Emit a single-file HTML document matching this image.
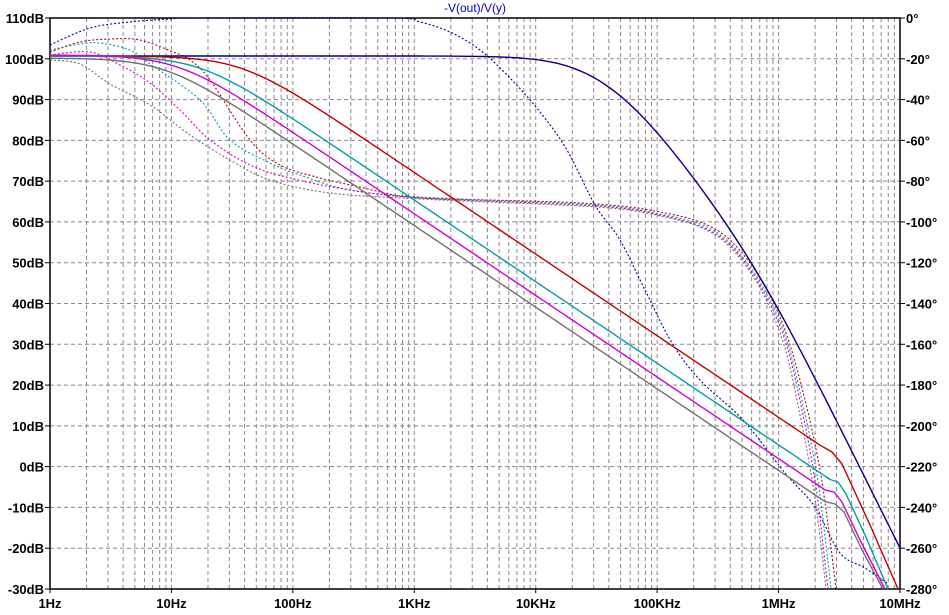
<!DOCTYPE html>
<html><head><style>
body{margin:0;background:#fff;}
svg{display:block;font-family:"Liberation Sans",sans-serif;}
</style></head><body>
<svg id="s" width="949" height="615" xmlns="http://www.w3.org/2000/svg">
<rect width="949" height="615" fill="#fff"/>
<g id="grid" stroke="#888" stroke-width="1" stroke-dasharray="4,3"></g>
<rect x="50" y="18" width="850" height="571" fill="none" stroke="#000" stroke-width="1.5"/>
<g id="labels" font-size="13" font-weight="bold" fill="#000"></g>
<text x="475" y="12" font-size="12" fill="#0000c0" text-anchor="middle">-V(out)/V(y)</text>
<g id="curves" fill="none" stroke-width="1.4" stroke-linejoin="round"></g>
</svg>
<script>
const NS="http://www.w3.org/2000/svg";
const L=50,R=900,T=18,B=589,dec=(R-L)/7,dy=(B-T)/14;
const g=document.getElementById('grid'),lb=document.getElementById('labels'),cv=document.getElementById('curves');
function el(p,t,a,txt){const e=document.createElementNS(NS,t);for(const k in a)e.setAttribute(k,a[k]);if(txt)e.textContent=txt;p.appendChild(e);return e;}
for(let d=0;d<7;d++)for(let m=1;m<=9;m++){const x=L+dec*(d+Math.log10(m));if(d==0&&m==1)continue;el(g,'line',{x1:x,x2:x,y1:T,y2:B});}
for(let i=1;i<14;i++){const y=T+dy*i;el(g,'line',{x1:L,x2:R,y1:y,y2:y});}
const fl=["1Hz","10Hz","100Hz","1KHz","10KHz","100KHz","1MHz","10MHz"];
fl.forEach((t,i)=>{const x=L+dec*i;el(lb,'text',{x:x,y:608,'text-anchor':'middle'},t);el(lb,'line',{x1:x,x2:x,y1:B,y2:B+4,stroke:'#000'});});
for(let i=0;i<=14;i++){const y=T+dy*i;el(lb,'text',{x:44,y:y+5,'text-anchor':'end'},(110-10*i)+"dB");el(lb,'text',{x:906,y:y+5},(i==0?"0":(-20*i))+"°");
el(lb,'line',{x1:L-5,x2:L,y1:y,y2:y,stroke:'#000'});el(lb,'line',{x1:R,x2:R+5,y1:y,y2:y,stroke:'#000'});}
function pl(pts,c,dash){
  let d="M"+pts[0].join(",");
  for(let i=0;i<pts.length-1;i++){const p0=pts[Math.max(0,i-1)],p1=pts[i],p2=pts[i+1],p3=pts[Math.min(pts.length-1,i+2)];
    const c1=[p1[0]+(p2[0]-p0[0])/6,p1[1]+(p2[1]-p0[1])/6],c2=[p2[0]-(p3[0]-p1[0])/6,p2[1]-(p3[1]-p1[1])/6];
    d+=" C"+c1.join(",")+" "+c2.join(",")+" "+p2.join(",");}
  const a={d:d,stroke:c};if(dash){a['stroke-dasharray']='2,2';a['stroke-width']=1.1;}el(cv,'path',a);}
function pole(x,p){return 40.8*Math.log10(1+Math.pow(10,(x-p)/60.7));}
function gain(y0,poles,x1){const r=[];for(let x=50;x<=x1;x+=5){let y=y0;poles.forEach(p=>y+=pole(x,p));r.push([x,+y.toFixed(1)]);}return r;}
function poly(pts,c){el(cv,'polyline',{points:pts.map(p=>p.join(',')).join(' '),stroke:c});}
// dashed phase
pl([[50,45],[90,28],[130,22],[170,19],[200,18],[390,18],[420,22],[450,32],[480,50],[510,78],[540,112],[567,150],[595,205],[620,240],[645,290],[672,343],[700,380],[743,420],[785,473],[815,507],[840,553],[865,568],[887,583]],'#00008c',1);
pl([[50,52],[80,42],[110,39],[140,40],[173,52],[190,60],[210,80],[250,140],[280,165],[320,178],[360,187],[400,196],[450,199],[560,202],[620,206],[660,212],[700,222],[730,240],[760,278],[785,330],[805,400],[820,470],[830,540],[836,589]],'#c00000',1);
pl([[50,50],[80,44],[100,43],[130,50],[150,64],[200,100],[230,140],[270,163],[300,175],[350,190],[420,197],[560,203],[620,207],[660,214],[700,224],[730,243],[760,282],[785,335],[803,405],[817,475],[826,545],[831,589]],'#00a0a0',1);
pl([[50,55],[90,52],[120,65],[150,83],[180,110],[210,140],[250,165],[290,178],[350,190],[420,198],[560,204],[620,208],[660,215],[700,226],[730,245],[760,285],[785,340],[802,410],[815,480],[823,545],[828,589]],'#d000d0',1);
pl([[50,60],[80,64],[110,84],[150,105],[190,135],[230,160],[270,180],[330,193],[420,199],[560,205],[620,209],[660,216],[700,227],[730,247],[760,288],[784,345],[800,415],[813,485],[821,545],[826,589]],'#707070',1);
// solid gain
poly(gain(56,[580,630,758],900),'#00008c');
poly(gain(56,[241],820).concat([[832,452],[842,464],[870,525],[898,589]]),'#c00000');
poly(gain(56,[200],830).concat([[838,482],[846,494],[865,535],[888,589]]),'#00a0a0');
poly(gain(55,[178],825).concat([[834,492],[842,502],[860,540],[885,589]]),'#d000d0');
poly(gain(58,[165],825).concat([[835,504],[844,512],[862,550],[883,589]]),'#707070');
</script>
</body></html>
